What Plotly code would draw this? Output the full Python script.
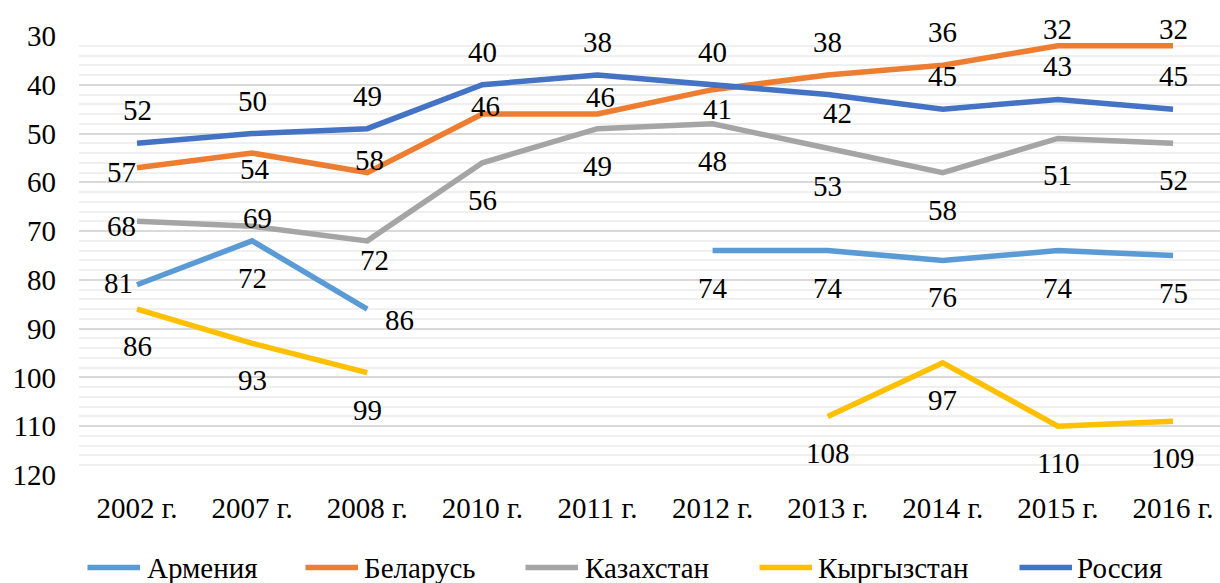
import plotly.graph_objects as go

# Years on the horizontal axis
years = ["2002 г.", "2007 г.", "2008 г.", "2010 г.", "2011 г.",
         "2012 г.", "2013 г.", "2014 г.", "2015 г.", "2016 г."]

# Ranking positions per country (None = no ranking that year)
armenia = [81, 72, 86, None, None, 74, 74, 76, 74, 75]
belarus = [57, 54, 58, 46, 46, 41, 38, 36, 32, 32]
kazakhstan = [68, 69, 72, 56, 49, 48, 53, 58, 51, 52]
kyrgyzstan = [86, 93, 99, None, None, None, 108, 97, 110, 109]
russia = [52, 50, 49, 40, 38, 40, 42, 45, 43, 45]

y_ticks = [30, 40, 50, 60, 70, 80, 90, 100, 110, 120]

FONT = "Times New Roman"
FS = 29

# Data-label offsets in pixels (dx, dy; dy positive = downward)
UP, DOWN = (0, -33), (0, 37)
label_offsets = {
    "Армения": [(-19, -2), DOWN, (32, 11), None, None, DOWN, DOWN, DOWN, DOWN, DOWN],
    "Беларусь": [(-16, 4), (3, 16), (2, -13), (3, -8), (3, -17), (5, 19),
                 UP, UP, (0, -17), (0, -17)],
    "Казахстан": [(-16, 5), (5, -8), (7, 19), DOWN, DOWN, DOWN, (0, 38), DOWN, DOWN, DOWN],
    "Кыргызстан": [DOWN, DOWN, DOWN, None, None, None, DOWN, DOWN, DOWN, DOWN],
    "Россия": [UP, UP, UP, UP, UP, UP, (10, 18), UP, UP, UP],
}

series = [
    ("Армения", armenia, "#5B9BD5"),
    ("Беларусь", belarus, "#ED7D31"),
    ("Казахстан", kazakhstan, "#A5A5A5"),
    ("Кыргызстан", kyrgyzstan, "#FFC000"),
    ("Россия", russia, "#4472C4"),
]

W, H = 1220, 583
ML, MR, MT, MB = 79, 0, 36, 108

fig = go.Figure()
annotations = []
for name, vals, color in series:
    fig.add_trace(go.Scatter(
        x=years, y=vals, mode="lines", name=name,
        line=dict(color=color, width=5.5),
        connectgaps=False, showlegend=False,
    ))
    for i, v in enumerate(vals):
        if v is None:
            continue
        dx, dy = label_offsets[name][i]
        annotations.append(dict(
            x=years[i], y=v, xref="x", yref="y", text=str(v),
            showarrow=False, xanchor="center", yanchor="middle",
            xshift=dx, yshift=-dy,
            font=dict(family=FONT, size=FS, color="black"),
        ))

# Legend drawn below the plot: swatch start, text start (pixels)
legend_pos = [(85, 146), (303, 363), (523, 584), (757, 817), (1017, 1076)]
legend_y = 567.5
pw = W - ML - MR
ph = H - MT - MB


def px_to_paper_x(px):
    return (px - ML) / pw


def px_to_paper_y(py):
    return (H - MB - py) / ph


shapes = []
for (name, vals, color), (sx, tx) in zip(series, legend_pos):
    shapes.append(dict(
        type="line", xref="paper", yref="paper",
        x0=px_to_paper_x(sx + 2.5), x1=px_to_paper_x(sx + 55),
        y0=px_to_paper_y(legend_y), y1=px_to_paper_y(legend_y),
        line=dict(color=color, width=5.5),
    ))
    annotations.append(dict(
        x=px_to_paper_x(tx), y=px_to_paper_y(legend_y), xref="paper", yref="paper",
        text=name, showarrow=False, xanchor="left", yanchor="middle",
        borderpad=0, font=dict(family=FONT, size=FS, color="black"),
    ))

fig.update_layout(
    width=W, height=H,
    margin=dict(l=ML, r=MR, t=MT, b=MB, pad=0),
    paper_bgcolor="white", plot_bgcolor="white",
    font=dict(family=FONT, size=FS, color="black"),
    annotations=annotations, shapes=shapes,
    showlegend=False,
    xaxis=dict(
        type="category", range=[-0.504, 9.408],
        showgrid=False, zeroline=False, showline=False,
        ticks="", ticklabelstandoff=13,
        tickfont=dict(family=FONT, size=FS, color="black"),
    ),
    yaxis=dict(
        range=[120, 30], tickvals=y_ticks, ticktext=[str(t) for t in y_ticks],
        showgrid=True, gridcolor="#D9D9D9", gridwidth=1.5,
        zeroline=False, showline=False, ticks="", ticklabelstandoff=22,
        tickfont=dict(family=FONT, size=FS, color="black"),
        minor=dict(dtick=2, tick0=30, showgrid=True, gridcolor="#F0F0F0", gridwidth=1.5),
    ),
)

fig.write_html("out.html")
